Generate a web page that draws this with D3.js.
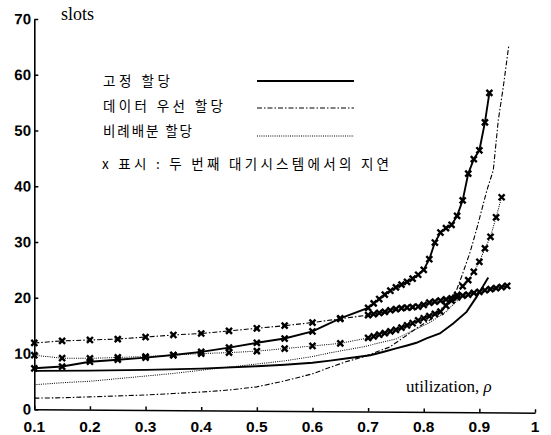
<!DOCTYPE html>
<html><head><meta charset="utf-8">
<script src="https://cdn.jsdelivr.net/npm/d3@7"></script>
<style>
html,body{margin:0;padding:0;background:#fff;}
svg{display:block;}
</style></head>
<body>
<script>
// ---- data ----
const xTickValues = [0.1,0.2,0.3,0.4,0.5,0.6,0.7,0.8,0.9,1];
const xTickLabels = ["0.1","0.2","0.3","0.4","0.5","0.6","0.7","0.8","0.9","1"];
const yTickValues = [0,10,20,30,40,50,60,70];
const yTickLabels = ["0","10","20","30","40","50","60","70"];

const legendNames = ["고정 할당","데이터 우선 할당","비례배분 할당"];
const legendNote = "x 표시 : 두 번째 대기시스템에서의 지연";

// fixed allocation, first queue (solid, no marker)
const fixedRho   = [0.1,0.2,0.3,0.4,0.5,0.55,0.6,0.632,0.66,0.704,0.73,0.752,0.77,0.787,0.805,0.829,0.853,0.877,0.895,0.916];
const fixedDelay = [6.9,7.0,7.2,7.5,8.0,8.3,8.7,9.1,9.5,10.1,10.8,11.4,11.9,12.4,13.2,14.1,15.9,18.0,20.7,24.2];

// data-priority allocation, first queue (dash-dot, no marker)
const prioRho   = [0.1,0.15,0.2,0.25,0.3,0.35,0.4,0.45,0.5,0.55,0.6,0.632,0.66,0.691,0.739,0.769,0.787,0.811,0.841,0.859,0.868,0.883,0.895,0.914,0.925,0.934,0.943,0.953];
const prioDelay = [2.0,2.1,2.3,2.5,2.7,3.0,3.3,3.7,4.3,5.4,6.7,7.9,8.9,9.8,11.6,13.7,15.0,16.5,19.5,21.9,24.3,28.6,32.8,40.0,43.4,52.4,58.4,65.9];

// proportional allocation, first queue (dotted, no marker)
const propRho   = [0.1,0.15,0.2,0.25,0.3,0.35,0.4,0.45,0.5,0.55,0.6,0.632,0.691,0.751,0.781,0.81,0.84,0.87];
const propDelay = [4.4,4.8,5.1,5.6,6.1,6.6,7.2,7.8,8.4,9.0,9.8,10.5,11.6,13.1,14.6,16.0,18.0,21.0];

// fixed allocation, second queue (solid, x markers)
const fixed2Rho   = [0.1,0.15,0.2,0.25,0.3,0.35,0.4,0.45,0.5,0.55,0.6,0.65,
  0.70,0.71,0.72,0.73,0.74,0.75,0.76,0.77,0.78,0.79,0.80,0.81,0.82,0.83,0.84,0.85,0.86,0.87,0.88,0.89,0.90,0.91,0.918];
const fixed2Delay = [7.35,7.7,8.6,9.0,9.4,9.9,10.5,11.3,12.2,13.0,14.3,16.7,
  18.6,19.4,20.2,21.0,21.7,22.3,22.8,23.3,23.9,24.6,25.5,27.4,30.4,32.2,33.0,33.6,35.2,38.0,42.8,45.4,47.0,52.0,57.3];

// data-priority allocation, second queue (dash-dot, x markers)
const prio2Rho   = [0.1,0.15,0.2,0.25,0.3,0.35,0.4,0.45,0.5,0.55,0.6,0.65,
  0.70,0.71,0.72,0.73,0.74,0.75,0.76,0.77,0.78,0.79,0.80,0.81,0.82,0.83,0.84,0.85,0.86,0.87,0.88,0.89,0.90,0.91,0.92,0.93,0.94,0.95];
const prio2Delay = [11.9,12.3,12.5,12.7,13.1,13.5,13.8,14.3,14.8,15.3,15.9,16.6,
  17.3,17.5,17.7,17.9,18.2,18.4,18.6,18.7,18.8,18.9,19.2,19.6,19.8,20.0,20.2,20.4,20.6,20.9,21.1,21.4,21.6,21.9,22.1,22.3,22.5,22.7];

// proportional allocation, second queue (dotted, x markers)
const prop2Rho   = [0.1,0.15,0.2,0.25,0.3,0.35,0.4,0.45,0.5,0.55,0.6,0.65,
  0.70,0.71,0.72,0.73,0.74,0.75,0.76,0.77,0.78,0.79,0.80,0.81,0.82,0.83,0.84,0.85,0.86,0.87,0.88,0.89,0.90,0.91,0.92,0.93,0.94];
const prop2Delay = [9.7,9.2,9.2,9.4,9.6,9.9,10.2,10.4,10.7,11.2,11.7,12.2,
  13.2,13.5,13.8,14.1,14.4,14.7,15.1,15.5,15.9,16.4,16.8,17.2,17.6,18.0,19.1,20.0,21.0,22.6,23.7,25.2,27.0,29.4,31.5,35.0,38.6];

// ---- drawing ----
const W = 551, H = 435;
const ox = 34.3, oy = 409.3;
const svg = d3.select("body").append("svg").attr("width", W).attr("height", H);

const x = d3.scaleLinear().domain([0.1, 1]).range([0, 500.7]);
const y = d3.scaleLinear().domain([0, 70]).range([0, -390.3]);

const STYLES = {
  solid:   {w: 1.9, dash: null},
  dashdot: {w: 1.1, dash: "5,2,1.5,2"},
  dotted:  {w: 1.0, dash: "1,1.2"}
};

// plot group: slight skew like the scanned original
const plot = svg.append("g").attr("transform", `translate(${ox},${oy}) skewY(0.39)`);

// x axis (line + inward ticks)
const xAxis = d3.axisBottom(x).tickValues(xTickValues).tickSizeInner(-3.5).tickSizeOuter(0).tickFormat("");
const gx = plot.append("g").call(xAxis);
gx.selectAll("path,line").attr("stroke", "#000").attr("stroke-width", 1.5);

// y axis
const yAxis = d3.axisLeft(y).tickValues(yTickValues).tickSizeInner(-4).tickSizeOuter(0)
  .tickPadding(3.3).tickFormat((d, i) => yTickLabels[i]);
const gy = plot.append("g").call(yAxis);
gy.selectAll("path,line").attr("stroke", "#000").attr("stroke-width", 1.6);
gy.selectAll("text").attr("font-family", "Liberation Sans, Arial, sans-serif")
  .attr("font-weight", "bold").attr("font-size", 15).attr("fill", "#000");

// x tick labels (unskewed)
svg.append("g").selectAll("text").data(xTickValues).join("text")
  .attr("x", d => ox + x(d)).attr("y", 432)
  .attr("text-anchor", "middle")
  .attr("font-family", "Liberation Sans, Arial, sans-serif")
  .attr("font-weight", "bold").attr("font-size", 15.5)
  .text((d, i) => xTickLabels[i]);

const line = d3.line().x(d => x(d[0])).y(d => y(d[1]));

function drawSeries(rho, val, style, markers) {
  const pts = rho.map((r, i) => [r, val[i]]);
  const s = STYLES[style];
  plot.append("path").datum(pts).attr("d", line)
    .attr("fill", "none").attr("stroke", "#000")
    .attr("stroke-width", s.w).attr("stroke-dasharray", s.dash);
  if (markers) {
    plot.append("g").selectAll("path").data(pts).join("path")
      .attr("transform", d => `translate(${x(d[0])},${y(d[1])})`)
      .attr("d", "M-3,-3L3,3M-3,3L3,-3")
      .attr("stroke", "#000").attr("stroke-width", 2.4).attr("fill", "none");
  }
}

drawSeries(fixedRho, fixedDelay, "solid", false);
drawSeries(prioRho, prioDelay, "dashdot", false);
drawSeries(propRho, propDelay, "dotted", false);
drawSeries(prop2Rho, prop2Delay, "dotted", true);
drawSeries(prio2Rho, prio2Delay, "dashdot", true);
drawSeries(fixed2Rho, fixed2Delay, "solid", true);

// axis titles
svg.append("text").attr("x", 61).attr("y", 20)
  .attr("font-family", "Liberation Serif, Times New Roman, serif").attr("font-size", 18)
  .text("slots");
const ut = svg.append("text").attr("x", 406).attr("y", 392)
  .attr("font-family", "Liberation Serif, Times New Roman, serif").attr("font-size", 17);
ut.append("tspan").text("utilization, ");
ut.append("tspan").attr("font-style", "italic").text("ρ");

// legend
const legendStyles = ["solid", "dashdot", "dotted"];
const legendRows = [81, 108, 136];
const legendTextY = [86, 111, 136];
const legendTextW = [67, 120, 89];
const lg = svg.append("g");
legendNames.forEach((name, i) => {
  const s = STYLES[legendStyles[i]];
  lg.append("line").attr("x1", 257).attr("x2", 354)
    .attr("y1", legendRows[i]).attr("y2", legendRows[i])
    .attr("stroke", "#000").attr("stroke-width", s.w).attr("stroke-dasharray", s.dash);
  lg.append("text").attr("x", 103).attr("y", legendTextY[i])
    .attr("font-family", "Noto Sans CJK KR, sans-serif").attr("font-size", 13.5)
    .attr("textLength", legendTextW[i]).attr("lengthAdjust", "spacing")
    .text(name);
});
lg.append("text").attr("x", 102).attr("y", 169)
  .attr("font-family", "Noto Sans CJK KR, sans-serif").attr("font-size", 13.5)
  .attr("textLength", 287).attr("lengthAdjust", "spacing")
  .text(legendNote);
</script>
</body></html>
